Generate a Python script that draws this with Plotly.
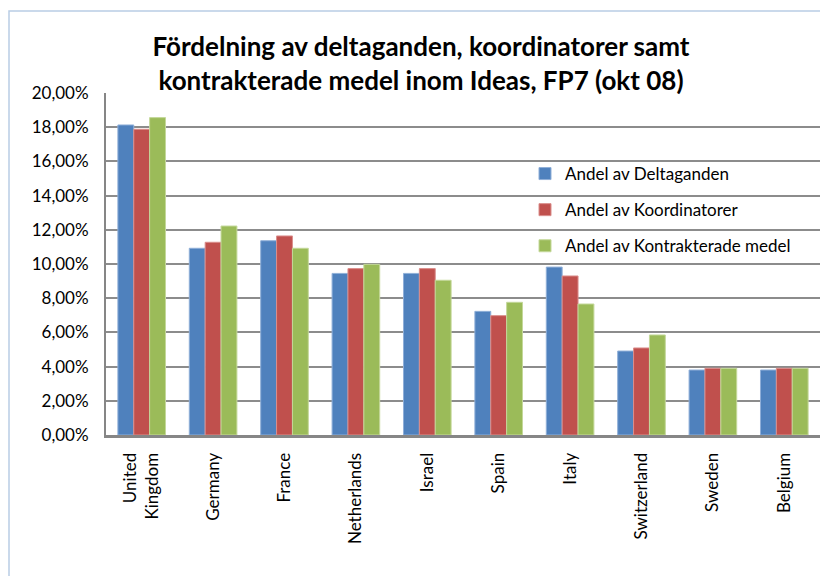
import plotly.graph_objects as go

countries = ["United<br>Kingdom", "Germany", "France", "Netherlands", "Israel",
             "Spain", "Italy", "Switzerland", "Sweden", "Belgium"]
deltaganden = [0.1813, 0.1092, 0.1136, 0.0945, 0.0945, 0.0723, 0.0982, 0.0491, 0.0380, 0.0380]
koordinatorer = [0.1788, 0.1127, 0.1164, 0.0973, 0.0973, 0.0698, 0.0930, 0.0509, 0.0390, 0.0390]
kontrakterade = [0.1856, 0.1222, 0.1092, 0.0998, 0.0905, 0.0776, 0.0766, 0.0585, 0.0390, 0.0390]
series_names = ["Andel av Deltaganden", "Andel av Koordinatorer", "Andel av Kontrakterade medel"]
colors = ["#4F81BD", "#C0504D", "#9BBB59"]
edge = ["#8FAFD8", "#DA8E8C", "#C4D89A"]

FONT = "Lato"
W, H = 820, 576
L, R, T, B = 106, 0, 93, 141

fig = go.Figure()
for i, (name, vals) in enumerate(zip(series_names, [deltaganden, koordinatorer, kontrakterade])):
    fig.add_trace(go.Bar(
        x=countries, y=vals, name=name, legendgroup=name,
        marker=dict(color=colors[i], line=dict(color=edge[i], width=1)),
    ))

pw = W - L - R
ph = H - T - B
def px(x):
    return (x - L) / pw
def py(y):
    return (H - B - y) / ph

fig.update_layout(
    width=W, height=H,
    margin=dict(l=L, r=R, t=T, b=B, autoexpand=False),
    paper_bgcolor="white", plot_bgcolor="white",
    separators=",.",
    barmode="group", bargap=0.333, bargroupgap=0,
    font=dict(family=FONT, size=17, color="black"),
    title=dict(
        text="<b>Fördelning av deltaganden, koordinatorer samt<br>kontrakterade medel inom Ideas, FP7 (okt 08)</b>",
        x=421 / W, xanchor="center", xref="container",
        y=1 - 56 / H, yanchor="middle", yref="container",
        font=dict(family=FONT, size=26, color="black"),
    ),
    legend=dict(
        x=px(525), y=py(156), xanchor="left", yanchor="top",
        bgcolor="rgba(0,0,0,0)", font=dict(family=FONT, size=17),
        tracegroupgap=11, itemwidth=30,
    ),
    xaxis=dict(
        tickangle=-90, showline=True, linecolor="#868686", linewidth=3,
        ticks="", showgrid=False, ticklabelstandoff=8,
        tickfont=dict(family=FONT, size=17),
    ),
    yaxis=dict(
        range=[0, 0.2], dtick=0.02, tickformat=".2%",
        showline=True, linecolor="#868686", linewidth=2,
        showgrid=True, gridcolor="#8C8C8C", gridwidth=1.5,
        ticks="", zeroline=False, ticklabelstandoff=12,
        tickfont=dict(family=FONT, size=17),
    ),
    shapes=[dict(
        type="rect", xref="paper", yref="paper",
        x0=px(9), x1=px(W + 5), y0=py(H + 5), y1=py(11),
        line=dict(color="#B9CDE5", width=1.5), fillcolor="rgba(0,0,0,0)", layer="below",
    )],
)

fig.write_html(
    "out.html",
    config={"displayModeBar": False},
    post_script="document.body.style.margin='0';document.body.style.overflow='hidden';"
                "document.documentElement.style.overflow='hidden';",
)
